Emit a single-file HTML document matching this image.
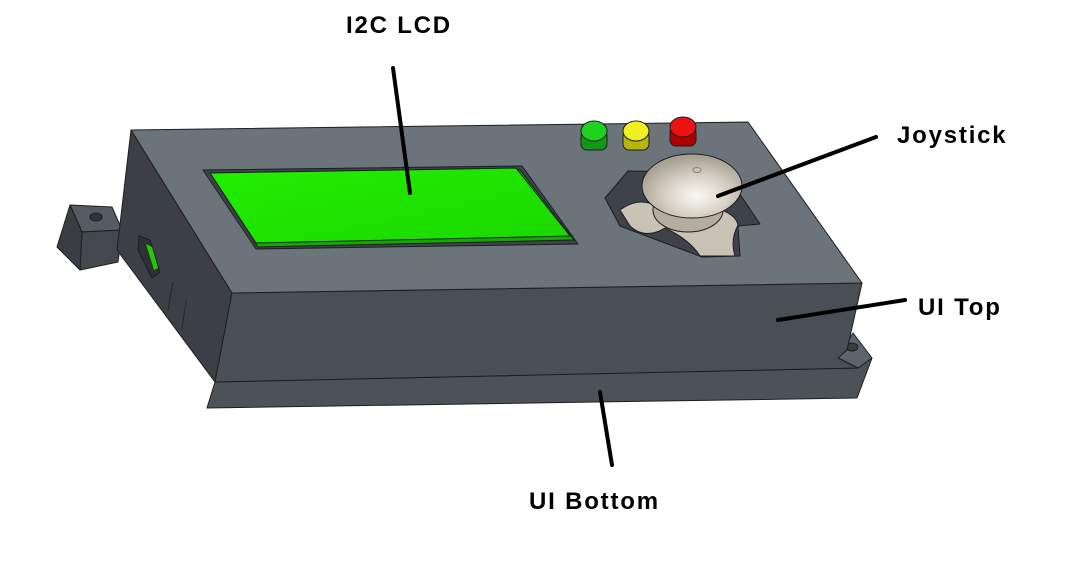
<!DOCTYPE html>
<html><head><meta charset="utf-8"><style>
body{margin:0;background:#fff;width:1075px;height:562px;overflow:hidden}
svg{display:block}
text{font-family:"Liberation Sans",sans-serif;font-weight:bold;font-size:24px;letter-spacing:1.8px;fill:#000}
</style></head><body>
<svg width="1075" height="562" viewBox="0 0 1075 562">
<defs>
<radialGradient id="knob" cx="0.55" cy="0.65" r="0.6"><stop offset="0" stop-color="#fbf9f3"/><stop offset="0.5" stop-color="#d8d3c6"/><stop offset="1" stop-color="#a8a293"/></radialGradient>
<linearGradient id="lcd" x1="0" y1="0" x2="1" y2="1"><stop offset="0" stop-color="#22ee00"/><stop offset="1" stop-color="#1ad800"/></linearGradient>
</defs>
<g stroke="#1c1e21" stroke-width="1" stroke-linejoin="round">
<polygon points="215,382 858,368 872,358 857,398 207,408" fill="#4d5259"/>
<polygon points="838,358 853,333 872,358 858,368" fill="#5e646b"/>
<ellipse cx="852" cy="347" rx="6" ry="4" fill="#3a3d42"/>
<polygon points="70,205 112,207 122,230 82,232" fill="#575c63"/>
<polygon points="82,232 122,230 118,262 80,270" fill="#44484e"/>
<polygon points="70,205 82,232 80,270 57,247" fill="#3a3d42"/>
<ellipse cx="96" cy="217" rx="6" ry="4" fill="#33363a"/>
<polygon points="131,130 232,293 215,382 117,250" fill="#3c3f45"/>
<polygon points="139,236 150,240 160,272 152,278 138,250" fill="#2d3034"/>
<polygon points="146,244 152,247 158,268 154,270" fill="#22cc00" stroke="none"/>
<line x1="173" y1="282" x2="168" y2="310" stroke="#25282c"/>
<line x1="186" y1="300" x2="182" y2="330" stroke="#25282c"/>
<polygon points="232,293 862,283 847,350 838,358 858,368 215,382" fill="#4a4f56"/>
<polygon points="131,130 748,122 862,283 232,293" fill="#6b737b"/>
<polygon points="203,170 522,166 578,244 256,249" fill="#3e4349"/>
<polygon points="212,176 520,170 574,240 258,247" fill="#14a800"/>
<polygon points="210,173 516,168 570,236 256,243" fill="url(#lcd)"/>
<polygon points="605,198 628,171 725,172 760,224 738,226 740,256 702,257 620,226" fill="#3e4349"/>
<path d="M620,210 Q640,195 660,208 L700,205 Q735,210 738,225 Q730,240 735,256 L700,256 Q690,240 665,228 Q645,240 630,226 Z" fill="#c9c3b5"/>
<ellipse cx="688" cy="210" rx="35" ry="22" fill="#b5ae9f"/>
<ellipse cx="692" cy="186" rx="50" ry="32" fill="url(#knob)"/>
<ellipse cx="697" cy="170" rx="4" ry="2.5" fill="none" stroke="#8b8577"/>
<g><rect x="581" y="130" width="26" height="20" rx="6" fill="#119a11"/><ellipse cx="594" cy="131" rx="13" ry="10" fill="#1fd21f"/></g>
<g><rect x="623" y="130" width="26" height="20" rx="6" fill="#b5b50a"/><ellipse cx="636" cy="131" rx="13" ry="10" fill="#f0f020"/></g>
<g><rect x="670" y="126" width="26" height="20" rx="6" fill="#b00000"/><ellipse cx="683" cy="127" rx="13" ry="10" fill="#ee1111"/></g>
</g>
<g stroke="#000" stroke-width="4" stroke-linecap="round">
<line x1="393" y1="68" x2="410" y2="193"/>
<line x1="876" y1="137" x2="718" y2="196"/>
<line x1="905" y1="300" x2="778" y2="320"/>
<line x1="600" y1="392" x2="612" y2="465"/>
</g>
<text x="346" y="33">I2C LCD</text>
<text x="897" y="143">Joystick</text>
<text x="918" y="315">UI Top</text>
<text x="529" y="509">UI Bottom</text>
</svg>
</body></html>
